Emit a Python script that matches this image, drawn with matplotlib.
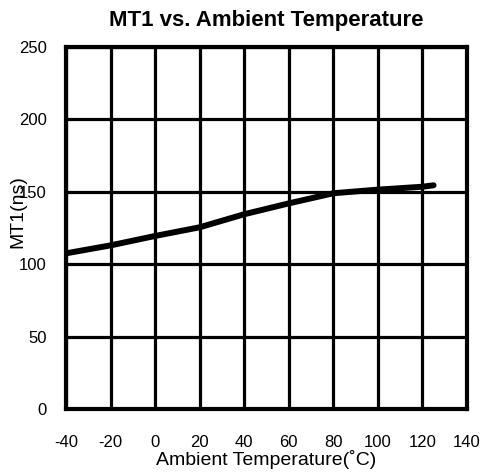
import matplotlib
matplotlib.use("Agg")
import matplotlib.pyplot as plt

plt.rcParams['font.family'] = ['Liberation Sans', 'DejaVu Sans']
plt.rcParams['axes.unicode_minus'] = False

temps = [-40, -20, 0, 20, 40, 60, 80, 100, 120, 125]
mt1 = [107.5, 113, 119.5, 125.5, 134.5, 142, 149, 151.5, 153.5, 154.5]
xticks = [-40, -20, 0, 20, 40, 60, 80, 100, 120, 140]
yticks = [0, 50, 100, 150, 200, 250]

fig = plt.figure(figsize=(4.84, 4.74), dpi=100)
ax = fig.add_axes([66 / 484, 1 - 409 / 474, 401 / 484, 362 / 474])

ax.plot(temps, mt1, color='black', lw=4.3, solid_capstyle='round', zorder=3)

ax.set_xlim(-40, 140)
ax.set_ylim(0, 250)
ax.set_xticks(xticks)
ax.set_yticks(yticks)
ax.grid(True, color='black', lw=2.3)
for s in ax.spines.values():
    s.set_linewidth(3)
ax.tick_params(length=0, labelsize=12)
ax.tick_params(axis='x', pad=19)
ax.tick_params(axis='y', pad=14)

ax.set_title('MT1 vs. Ambient Temperature', fontsize=16, fontweight='bold', pad=15)
ax.set_xlabel('Ambient Temperature(˚C)', fontsize=14, labelpad=0)
ax.set_ylabel('MT1(ns)', fontsize=14)
ax.yaxis.set_label_coords(-0.098, 0.545)

fig.savefig('out.png', dpi=100)
